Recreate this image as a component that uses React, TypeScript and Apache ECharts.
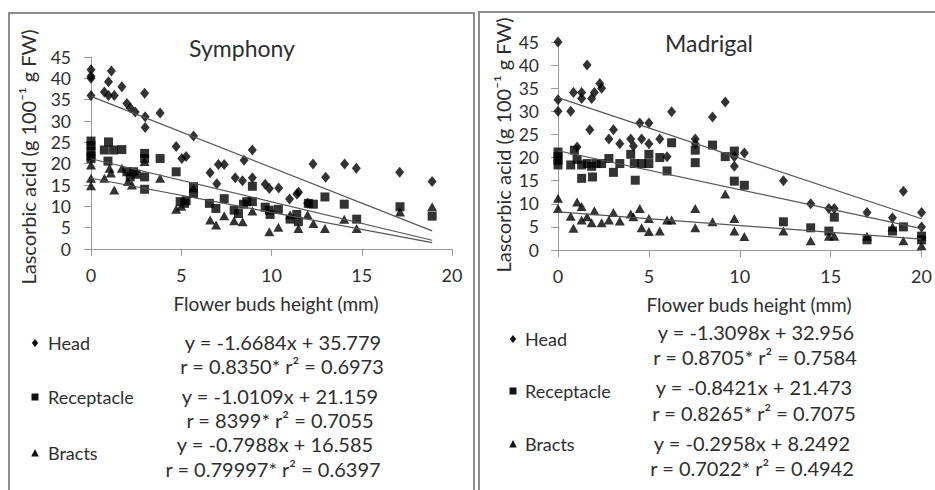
import React, { useEffect, useRef } from 'react';
import * as echarts from 'echarts';

const FONT = 'Lato, "Open Sans", "Liberation Sans", sans-serif';

const seriesNames = ['Head', 'Receptacle', 'Bracts'];
const panelTitles = ['Symphony', 'Madrigal'];
const xAxisTitle = 'Flower buds height (mm)';
const yAxisTitle = 'Lascorbic acid (g 100⁻¹ g FW)';

// Symphony: [bud height (mm), ascorbic acid]
const symphonyHead = [
  [0, 42], [0, 40.5], [0, 40], [0, 36], [0.74, 36.8], [0.97, 39.2], [0.97, 36], [1.13, 41.7], [1.29, 36],
  [1.71, 38], [1.99, 34.1], [2.17, 33.1], [2.45, 32.1], [2.97, 36.5], [3.0, 31], [3.0, 28.5], [3.83, 31.9],
  [4.72, 24], [5.03, 21.2], [5.27, 21.7], [5.68, 26.5], [6.6, 17.9], [6.97, 15.3], [7.06, 19.8], [7.38, 19.8],
  [7.99, 16.7], [8.39, 16], [8.48, 20.8], [8.94, 23.2], [8.94, 16.7], [9.65, 15.2], [9.88, 14.2], [10.4, 14.3],
  [11.0, 11.7], [11.4, 12.9], [11.5, 13.3], [12.0, 10.7], [12.3, 19.9], [13.0, 16.8], [14.05, 19.9],
  [14.7, 18.9], [17.1, 18], [18.9, 15.8],
];
const symphonyReceptacle = [
  [0, 25.3], [0, 24.2], [0, 23], [0, 21.8], [0, 21.2], [0.74, 23.2], [0.97, 25.1], [0.94, 20.6], [1.25, 23.2],
  [1.71, 23.3], [1.99, 18.1], [2.36, 18.1], [2.17, 16.9], [2.5, 17.5], [2.97, 22.4], [2.97, 21.2], [2.97, 16.9],
  [2.97, 14], [3.83, 21.2], [4.72, 18.1], [4.94, 11.1], [5.18, 10.7], [5.27, 11.3], [5.68, 14.6], [5.68, 13],
  [6.56, 10.7], [6.92, 9.5], [7.38, 11.8], [7.93, 9.1], [8.17, 8.3], [8.45, 10.5], [8.63, 11.1], [8.94, 14.7],
  [8.94, 11.1], [9.65, 9.8], [9.88, 9.1], [9.92, 8.1], [10.38, 9.3], [11.03, 7], [11.4, 8.1], [11.49, 6.4],
  [12.04, 10.7], [12.32, 10.5], [12.96, 12.2], [14.03, 10.5], [14.72, 7], [17.12, 9.9], [18.9, 7.7],
];
const symphonyBracts = [
  [0, 19.7], [0, 16.6], [0, 14.8], [0.74, 16.6], [1.03, 18.9], [1.1, 17.8], [1.29, 13.8], [1.71, 18.9],
  [2.05, 15.8], [2.27, 15], [2.97, 20.5], [3.83, 16.6], [4.72, 9.3], [5.0, 10], [5.68, 14.3], [6.6, 6.8],
  [6.93, 5.6], [7.38, 7.8], [7.93, 6.6], [8.4, 6.4], [8.94, 8.9], [9.88, 4.05], [10.38, 5.1], [11.03, 8],
  [11.49, 4.8], [12.0, 8], [12.32, 6], [12.96, 4.8], [14.03, 7], [14.72, 4.8], [17.12, 8.7], [18.9, 9.9],
];

// Madrigal
const madrigalHead = [
  [0, 45], [0, 32.5], [0, 30], [0.7, 30], [0.85, 34.1], [1.05, 22.3], [1.3, 34.1], [1.3, 32.8], [1.6, 40],
  [1.75, 26], [1.85, 32.8], [2.0, 34.1], [2.3, 36], [2.4, 35], [2.8, 24], [3.05, 26], [3.4, 23], [4.0, 24],
  [4.15, 22.5], [4.5, 27.5], [4.6, 24], [5.0, 27.5], [5.0, 23], [5.6, 24], [6.0, 20.2], [6.25, 29.9],
  [7.55, 24], [7.55, 23], [8.5, 28.8], [9.2, 32], [9.7, 20.2], [9.7, 18.1], [10.25, 21], [12.4, 15],
  [13.9, 10], [14.9, 9], [15.2, 9], [17.0, 8.1], [18.4, 7], [19.0, 12.7], [20, 8.1], [20, 5],
];
const madrigalReceptacle = [
  [0, 21.2], [0, 20.2], [0, 19.4], [0, 18.4], [0.7, 18.4], [0.9, 21.6], [1.05, 19.6], [1.3, 18.4],
  [1.3, 15.5], [1.6, 18.7], [1.85, 18.1], [1.9, 15.8], [2.1, 18.7], [2.4, 18.7], [2.8, 19.8], [3.05, 16.8],
  [3.4, 18.7], [4.0, 20.7], [4.2, 18.7], [4.25, 15.1], [4.6, 18.7], [5.0, 20.7], [5.0, 18.7], [5.6, 20],
  [6.0, 17.1], [6.25, 23.2], [7.55, 21.6], [7.55, 18.9], [8.5, 22.7], [9.2, 20.2], [9.7, 21.4], [9.7, 14.9],
  [10.25, 14], [12.4, 6.1], [13.9, 4.8], [14.9, 4.1], [15.2, 7.1], [17.0, 2.2], [18.4, 4.1], [19.0, 5],
  [20, 3], [20, 2.2],
];
const madrigalBracts = [
  [0, 11.2], [0, 9], [0.7, 7.3], [0.85, 4.7], [1.05, 10.4], [1.3, 9.4], [1.3, 6.5], [1.6, 7.2], [1.85, 5.9],
  [2.0, 8.5], [2.4, 5.9], [2.8, 6.5], [3.05, 8.1], [3.4, 6.3], [4.0, 7.8], [4.15, 7.2], [4.5, 9], [4.6, 4.8],
  [5.0, 6.8], [5.0, 4], [5.6, 4.1], [6.0, 6.5], [6.25, 6.5], [7.55, 9], [7.55, 4.8], [8.5, 6.1], [9.2, 12.1],
  [9.7, 6.8], [9.7, 4.1], [10.25, 2.9], [12.4, 4.1], [13.9, 2], [14.9, 3], [15.2, 3], [17.0, 3], [18.4, 5],
  [19.0, 2], [20, 0.9],
];

const symphonySlopes = [-1.6684, -1.0109, -0.7988];
const symphonyIntercepts = [35.779, 21.159, 16.585];
const madrigalSlopes = [-1.3098, -0.8421, -0.2958];
const madrigalIntercepts = [32.956, 21.473, 8.2492];

const symphonyEquations = ['y = -1.6684x + 35.779', 'y = -1.0109x + 21.159', 'y = -0.7988x + 16.585'];
const symphonyStats = ['r = 0.8350* r² = 0.6973', 'r = 8399* r² = 0.7055', 'r = 0.79997* r² = 0.6397'];
const madrigalEquations = ['y = -1.3098x + 32.956', 'y = -0.8421x + 21.473', 'y = -0.2958x + 8.2492'];
const madrigalStats = ['r = 0.8705* r² = 0.7584', 'r = 0.8265* r² = 0.7075', 'r = 0.7022* r² = 0.4942'];

const symbols = ['diamond', 'rect', 'triangle'];
const symbolSizes: any[] = [[9, 11], 9, [10, 9]];

const AXIS_COLOR = '#9a9a9a';
const TEXT_COLOR = '#2e2e2e';

function legendMarker(kind: number, cx: number, cy: number) {
  const style = { fill: '#111' };
  if (kind === 0) {
    return { type: 'polygon', shape: { points: [[cx, cy - 4], [cx + 3.2, cy], [cx, cy + 4], [cx - 3.2, cy]] }, style };
  }
  if (kind === 1) {
    return { type: 'rect', shape: { x: cx - 3.5, y: cy - 3.5, width: 7, height: 7 }, style };
  }
  return { type: 'polygon', shape: { points: [[cx, cy - 4], [cx + 3.8, cy + 3.5], [cx - 3.8, cy + 3.5]] }, style };
}

export default function App() {
  const ref = useRef<HTMLDivElement>(null);

  useEffect(() => {
    if (!ref.current) return;
    const chart = echarts.init(ref.current, null, { renderer: 'svg' });

    const panels = [
      { data: [symphonyHead, symphonyReceptacle, symphonyBracts], slopes: symphonySlopes, intercepts: symphonyIntercepts },
      { data: [madrigalHead, madrigalReceptacle, madrigalBracts], slopes: madrigalSlopes, intercepts: madrigalIntercepts },
    ];

    const series: any[] = [];
    panels.forEach((p, pi) => {
      p.data.forEach((pts, si) => {
        series.push({
          type: 'scatter',
          name: seriesNames[si],
          xAxisIndex: pi,
          yAxisIndex: pi,
          symbol: symbols[si],
          symbolSize: symbolSizes[si],
          itemStyle: { color: '#000' },
          data: pts,
          z: 2,
        });
      });
      p.data.forEach((pts, si) => {
        const xmax = Math.max(...pts.map((d) => d[0]));
        const xmin = 0;
        series.push({
          type: 'line',
          name: seriesNames[si] + ' trend',
          xAxisIndex: pi,
          yAxisIndex: pi,
          symbol: 'none',
          showSymbol: false,
          lineStyle: { color: '#555', width: 1.2 },
          data: [
            [xmin, p.intercepts[si] + p.slopes[si] * xmin],
            [xmax, p.intercepts[si] + p.slopes[si] * xmax],
          ],
          z: 3,
        });
      });
    });

    const mkX = (gi: number) => ({
      type: 'value',
      gridIndex: gi,
      min: 0,
      max: 20,
      interval: 5,
      axisLine: { show: true, lineStyle: { color: AXIS_COLOR, width: 1 } },
      axisTick: { show: true, length: 7, lineStyle: { color: AXIS_COLOR } },
      axisLabel: { fontFamily: FONT, fontSize: 18, color: TEXT_COLOR, margin: 17 },
      splitLine: { show: false },
    });
    const mkY = (gi: number, margin: number) => ({
      type: 'value',
      gridIndex: gi,
      min: 0,
      max: 45,
      interval: 5,
      axisLine: { show: true, lineStyle: { color: AXIS_COLOR, width: 1 } },
      axisTick: { show: true, length: 7, lineStyle: { color: AXIS_COLOR } },
      axisLabel: { fontFamily: FONT, fontSize: 17.5, color: TEXT_COLOR, margin, lineHeight: 18 },
      splitLine: { show: false },
    });

    const graphic: any[] = [
      { type: 'rect', shape: { x: 9, y: 13, width: 465, height: 500 }, style: { fill: 'none', stroke: '#8c8c8c', lineWidth: 2 }, silent: true },
      { type: 'rect', shape: { x: 479, y: 12, width: 500, height: 500 }, style: { fill: 'none', stroke: '#8c8c8c', lineWidth: 2 }, silent: true },
      { type: 'text', x: 242, y: 48, style: { text: panelTitles[0], font: `23px ${FONT}`, fill: TEXT_COLOR, align: 'center', verticalAlign: 'middle' } },
      { type: 'text', x: 709, y: 43, style: { text: panelTitles[1], font: `23px ${FONT}`, fill: TEXT_COLOR, align: 'center', verticalAlign: 'middle' } },
      { type: 'text', x: 28, y: 157, rotation: Math.PI / 2, style: { text: yAxisTitle, font: `20px ${FONT}`, fill: TEXT_COLOR, align: 'center', verticalAlign: 'middle' } },
      { type: 'text', x: 503, y: 145, rotation: Math.PI / 2, style: { text: yAxisTitle, font: `20px ${FONT}`, fill: TEXT_COLOR, align: 'center', verticalAlign: 'middle' } },
      { type: 'text', x: 276, y: 303, style: { text: xAxisTitle, font: `19px ${FONT}`, fill: TEXT_COLOR, align: 'center', verticalAlign: 'middle' } },
      { type: 'text', x: 749, y: 304, style: { text: xAxisTitle, font: `19px ${FONT}`, fill: TEXT_COLOR, align: 'center', verticalAlign: 'middle' } },
    ];

    const legendLayout = [
      { markerX: 35, textX: 48, labelY: [343, 397, 453], eqX: [283, 280, 275], eqY: [342, 396, 444], stX: [282, 280, 273], stY: [366, 420, 469], eqs: symphonyEquations, stats: symphonyStats },
      { markerX: 513, textX: 525, labelY: [339, 391, 444], eqX: [756, 754, 752], eqY: [332, 387, 443], stX: [755, 754, 752], stY: [357, 413, 468], eqs: madrigalEquations, stats: madrigalStats },
    ];
    legendLayout.forEach((L) => {
      seriesNames.forEach((name, i) => {
        graphic.push(legendMarker(i, L.markerX, L.labelY[i]));
        graphic.push({ type: 'text', x: L.textX, y: L.labelY[i], style: { text: name, font: `18px ${FONT}`, fill: TEXT_COLOR, align: 'left', verticalAlign: 'middle' } });
        graphic.push({ type: 'text', x: L.eqX[i], y: L.eqY[i], style: { text: L.eqs[i], font: `20px ${FONT}`, lineHeight: 19, fill: TEXT_COLOR, align: 'center', verticalAlign: 'middle' } });
        graphic.push({ type: 'text', x: L.stX[i], y: L.stY[i], style: { text: L.stats[i], font: `20px ${FONT}`, lineHeight: 19, fill: TEXT_COLOR, align: 'center', verticalAlign: 'middle' } });
      });
    });

    chart.setOption({
      animation: false,
      backgroundColor: '#ffffff',
      grid: [
        { left: 91, top: 57, width: 361, height: 192 },
        { left: 558, top: 42, width: 364, height: 208 },
      ],
      xAxis: [mkX(0), mkX(1)],
      yAxis: [mkY(0, 20), mkY(1, 19)],
      series,
      graphic,
    });

    return () => chart.dispose();
  }, []);

  return <div ref={ref} style={{ position: 'absolute', left: 0, top: 0, width: 935, height: 490 }} />;
}
